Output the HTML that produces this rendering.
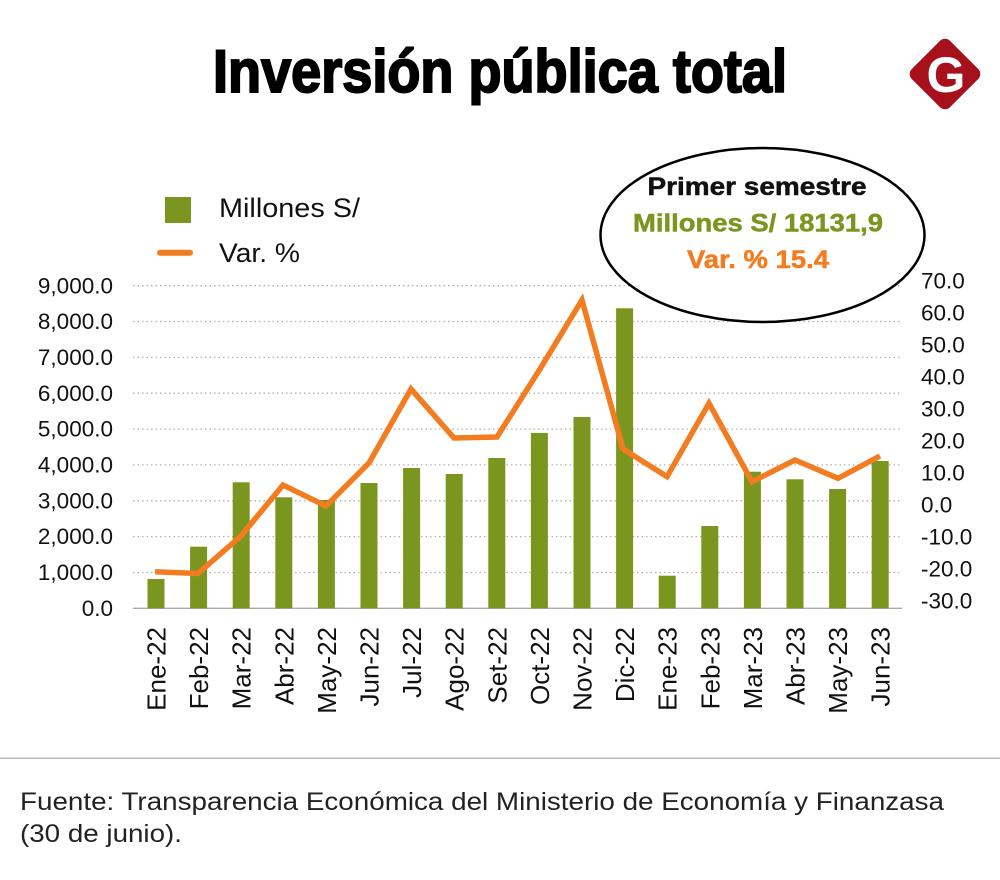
<!DOCTYPE html>
<html><head><meta charset="utf-8"><style>
html,body{margin:0;padding:0;background:#fff;}
svg{display:block;}
text{font-family:"Liberation Sans",sans-serif;}
</style></head><body>
<svg width="1000" height="880" viewBox="0 0 1000 880" xmlns="http://www.w3.org/2000/svg">
<rect width="1000" height="880" fill="#fff"/>
<!-- Title -->
<text x="213" y="92" font-size="60" font-weight="bold" fill="#000" stroke="#000" stroke-width="2" textLength="574" lengthAdjust="spacingAndGlyphs">Inversión pública total</text>
<!-- Logo -->
<g transform="translate(945,74) rotate(45)">
<rect x="-27" y="-27" width="54" height="54" rx="7" fill="#a6111c"/>
</g>
<text x="946" y="92" font-size="50" font-weight="bold" fill="#fff" text-anchor="middle" font-family="Liberation Serif, serif">G</text>

<!-- Gridlines -->
<g stroke="#b0b0b0" stroke-width="1.3" stroke-dasharray="1.5 3">
<line x1="133" x2="902" y1="285.7" y2="285.7"/>
<line x1="133" x2="902" y1="321.5" y2="321.5"/>
<line x1="133" x2="902" y1="357.4" y2="357.4"/>
<line x1="133" x2="902" y1="393.2" y2="393.2"/>
<line x1="133" x2="902" y1="429.1" y2="429.1"/>
<line x1="133" x2="902" y1="464.9" y2="464.9"/>
<line x1="133" x2="902" y1="500.8" y2="500.8"/>
<line x1="133" x2="902" y1="536.6" y2="536.6"/>
<line x1="133" x2="902" y1="572.5" y2="572.5"/>
</g>
<line x1="133" x2="902" y1="608.3" y2="608.3" stroke="#aaa" stroke-width="1.3"/>

<!-- Ellipse -->
<ellipse cx="762.5" cy="235" rx="162" ry="87" fill="#fff" stroke="#000" stroke-width="2.5"/>
<text x="757" y="195" font-size="25" font-weight="bold" fill="#111" stroke="#111" stroke-width="0.5" text-anchor="middle" textLength="219" lengthAdjust="spacingAndGlyphs">Primer semestre</text>
<text x="758" y="231.5" font-size="25" font-weight="bold" fill="#7a961f" stroke="#7a961f" stroke-width="0.5" text-anchor="middle" textLength="250" lengthAdjust="spacingAndGlyphs">Millones S/ 18131,9</text>
<text x="758" y="268" font-size="25" font-weight="bold" fill="#f47c20" stroke="#f47c20" stroke-width="0.5" text-anchor="middle" textLength="142" lengthAdjust="spacingAndGlyphs">Var. % 15.4</text>

<!-- Legend -->
<rect x="165" y="197" width="26" height="26" fill="#7a961f"/>
<line x1="160" x2="190" y1="252.7" y2="252.7" stroke="#f47c20" stroke-width="6" stroke-linecap="round"/>
<text x="219" y="217" font-size="27" fill="#111" textLength="141" lengthAdjust="spacingAndGlyphs">Millones S/</text>
<text x="219" y="262" font-size="27" fill="#111" textLength="81" lengthAdjust="spacingAndGlyphs">Var. %</text>

<!-- Left axis labels -->
<g font-size="22.5" fill="#111" text-anchor="end">
<text x="113" y="293.3">9,000.0</text>
<text x="113" y="329.1">8,000.0</text>
<text x="113" y="365">7,000.0</text>
<text x="113" y="400.8">6,000.0</text>
<text x="113" y="436.7">5,000.0</text>
<text x="113" y="472.5">4,000.0</text>
<text x="113" y="508.4">3,000.0</text>
<text x="113" y="544.2">2,000.0</text>
<text x="113" y="580.1">1,000.0</text>
<text x="113" y="615.9">0.0</text>
</g>
<!-- Right axis labels -->
<g font-size="22.5" fill="#111">
<text x="921" y="288.3">70.0</text>
<text x="921" y="320.3">60.0</text>
<text x="921" y="352.3">50.0</text>
<text x="921" y="384.3">40.0</text>
<text x="921" y="416.3">30.0</text>
<text x="921" y="448.3">20.0</text>
<text x="921" y="480.3">10.0</text>
<text x="921" y="512.3">0.0</text>
<text x="921" y="544.3">-10.0</text>
<text x="921" y="576.3">-20.0</text>
<text x="921" y="608.3">-30.0</text>
</g>

<!-- Bars -->
<g fill="#7a961f">
<rect x="147.5" y="579" width="17" height="29.3"/>
<rect x="190.1" y="546.7" width="17" height="61.6"/>
<rect x="232.7" y="482.3" width="17" height="126"/>
<rect x="275.3" y="497.3" width="17" height="111"/>
<rect x="317.9" y="500" width="17" height="108.3"/>
<rect x="360.5" y="483" width="17" height="125.3"/>
<rect x="403.1" y="468" width="17" height="140.3"/>
<rect x="445.7" y="474" width="17" height="134.3"/>
<rect x="488.3" y="458" width="17" height="150.3"/>
<rect x="530.9" y="433" width="17" height="175.3"/>
<rect x="573.5" y="417" width="17" height="191.3"/>
<rect x="616.1" y="308.3" width="17" height="300"/>
<rect x="658.7" y="575.7" width="17" height="32.6"/>
<rect x="701.3" y="526" width="17" height="82.3"/>
<rect x="743.9" y="471.7" width="17" height="136.6"/>
<rect x="786.5" y="479.3" width="17" height="129"/>
<rect x="829.1" y="489" width="17" height="119.3"/>
<rect x="871.7" y="461" width="17" height="147.3"/>
</g>

<!-- Line -->
<polyline fill="none" stroke="#f47c20" stroke-width="5.5" stroke-linejoin="miter" stroke-linecap="butt"
points="155,571.7 198,573.5 241,536 283,485 326,506 369,463 411,389 454,438 497,437 540,369 582,300 623,449 667,476.7 709,403.3 752,481.7 795,460 838,478.3 880,456"/>

<!-- X labels -->
<g font-size="26" fill="#111" text-anchor="end">
<text transform="translate(165.5,627) rotate(-90)">Ene-22</text>
<text transform="translate(208.1,627) rotate(-90)">Feb-22</text>
<text transform="translate(250.7,627) rotate(-90)">Mar-22</text>
<text transform="translate(293.3,627) rotate(-90)">Abr-22</text>
<text transform="translate(335.9,627) rotate(-90)">May-22</text>
<text transform="translate(378.5,627) rotate(-90)">Jun-22</text>
<text transform="translate(421.1,627) rotate(-90)">Jul-22</text>
<text transform="translate(463.7,627) rotate(-90)">Ago-22</text>
<text transform="translate(506.3,627) rotate(-90)">Set-22</text>
<text transform="translate(548.9,627) rotate(-90)">Oct-22</text>
<text transform="translate(591.5,627) rotate(-90)">Nov-22</text>
<text transform="translate(634.1,627) rotate(-90)">Dic-22</text>
<text transform="translate(676.7,627) rotate(-90)">Ene-23</text>
<text transform="translate(719.3,627) rotate(-90)">Feb-23</text>
<text transform="translate(761.9,627) rotate(-90)">Mar-23</text>
<text transform="translate(804.5,627) rotate(-90)">Abr-23</text>
<text transform="translate(847.1,627) rotate(-90)">May-23</text>
<text transform="translate(889.7,627) rotate(-90)">Jun-23</text>
</g>

<!-- Separator -->
<line x1="0" x2="1000" y1="758.3" y2="758.3" stroke="#bbb" stroke-width="1.5"/>

<!-- Footer -->
<text x="20" y="810" font-size="25" fill="#222" textLength="924" lengthAdjust="spacingAndGlyphs">Fuente: Transparencia Económica del Ministerio de Economía y Finanzasa</text>
<text x="20" y="842" font-size="25" fill="#222" textLength="162" lengthAdjust="spacingAndGlyphs">(30 de junio).</text>
</svg>
</body></html>
